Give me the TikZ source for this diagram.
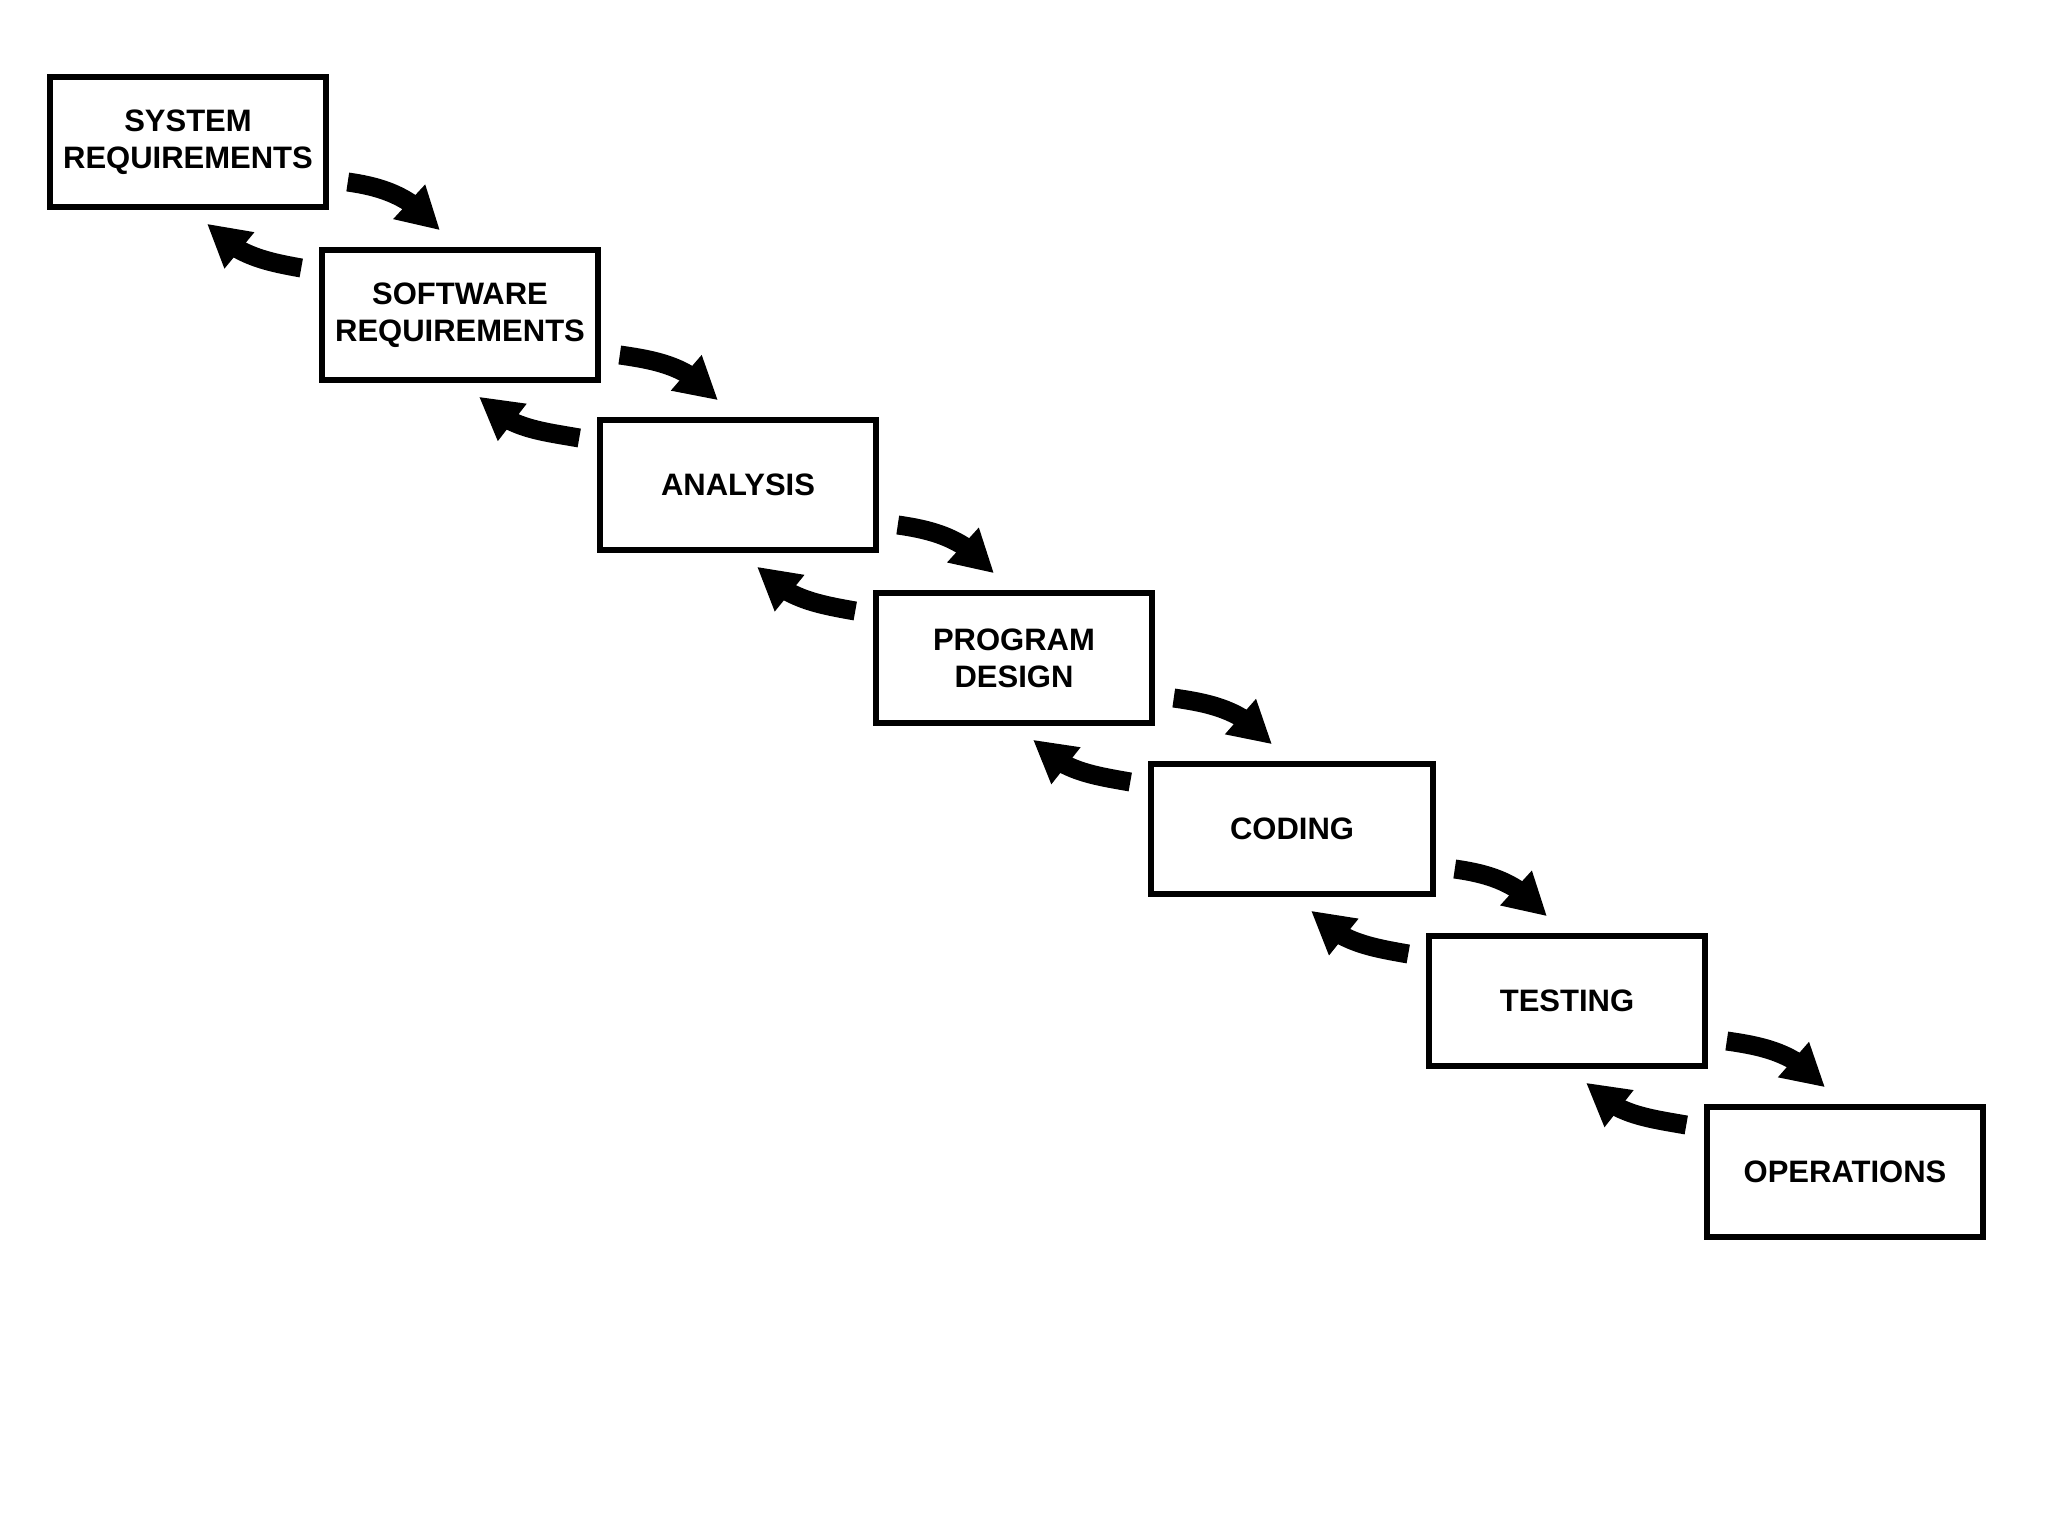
\documentclass[tikz,border=0pt]{standalone}
\usepackage{fontspec}
\setmainfont{Liberation Sans}
\usetikzlibrary{arrows.meta,bending}
\begin{document}
\begin{tikzpicture}[x=0.5pt,y=0.5pt,
  stage/.style={draw, line width=2.75pt, minimum width=138pt, minimum height=65pt,
    inner sep=0pt, align=center, font=\bfseries\fontsize{15.5}{18.5}\selectfont},
  flow/.style={line width=9.5pt, -{Triangle[width=22pt,length=21pt]}}]
\useasboundingbox[fill=white] (0,0) rectangle (2048,-1536);
\node[stage] (b1) at (188,-142) {SYSTEM\\REQUIREMENTS};
\node[stage] (b2) at (460,-315) {SOFTWARE\\REQUIREMENTS};
\node[stage] (b3) at (738,-485) {ANALYSIS};
\node[stage] (b4) at (1014,-658) {PROGRAM\\DESIGN};
\node[stage, minimum width=141pt] (b5) at (1292,-829) {CODING};
\node[stage] (b6) at (1567,-1001) {TESTING};
\node[stage] (b7) at (1845,-1172) {OPERATIONS};
\foreach \a/\b in {b1/b2,b2/b3,b3/b4,b4/b5,b5/b6,b6/b7}{
  \draw[flow] ([shift={(19,-40)}]\a.east) to[out=-8,in=130] ([shift={(-20,17)}]\b.north);
  \draw[flow] ([shift={(-18,47)}]\b.west) to[out=170,in=-48] ([shift={(19,-14)}]\a.south);
}
\end{tikzpicture}
\end{document}
